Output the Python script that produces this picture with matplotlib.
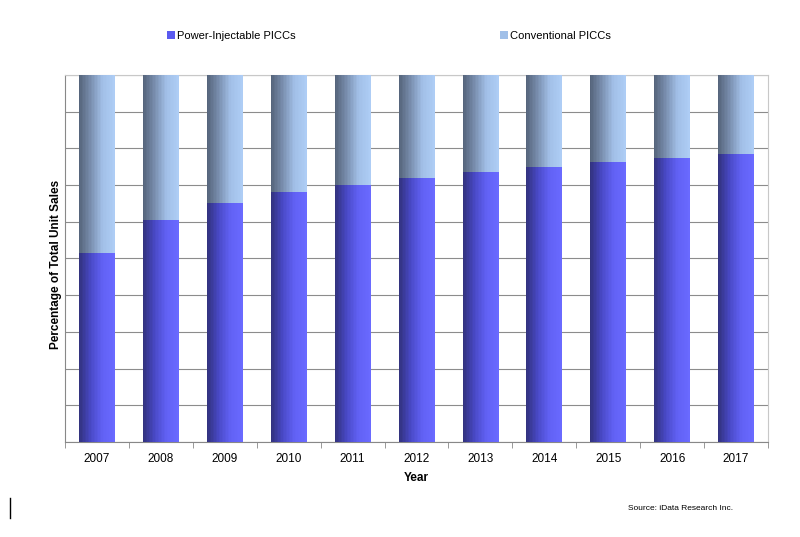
import matplotlib
matplotlib.use("Agg")
import matplotlib.pyplot as plt
import numpy as np
from matplotlib.colors import LinearSegmentedColormap

plt.rcParams['font.family'] = ['Liberation Sans', 'DejaVu Sans']

years = ["2007", "2008", "2009", "2010", "2011", "2012", "2013", "2014", "2015", "2016", "2017"]
power_injectable = [51.5, 60.5, 65.1, 68.1, 70.0, 71.9, 73.6, 74.9, 76.3, 77.4, 78.5]
conventional = [100 - v for v in power_injectable]

fig = plt.figure(figsize=(8, 5.37), dpi=100)
ax = fig.add_axes([0.08125, 0.177, 0.96 - 0.08125, 0.8603 - 0.177])

x = np.arange(len(years))
width = 0.56

cmap_blue = LinearSegmentedColormap.from_list("b", ["#33337f", "#4a4ac8", "#6262f5", "#6a6aff"])
cmap_light = LinearSegmentedColormap.from_list("l", ["#56657c", "#7b90b0", "#a2c0e8", "#aecdf5"])
grad = np.linspace(0, 1, 24).reshape(1, -1)

b1 = ax.bar(x, power_injectable, width, color="#5a5af0", label="Power-Injectable PICCs", zorder=3)
b2 = ax.bar(x, conventional, width, bottom=power_injectable, color="#a0bfe8",
            label="Conventional PICCs", zorder=3)

for bars, cm in ((b1, cmap_blue), (b2, cmap_light)):
    for r in bars:
        x0, y0 = r.get_x(), r.get_y()
        w, h = r.get_width(), r.get_height()
        im = ax.imshow(grad, cmap=cm, aspect='auto', extent=[x0, x0 + w, y0, y0 + h],
                       zorder=4, interpolation='nearest')
        im.set_clip_path(r)

ax.set_xlim(-0.5, len(years) - 0.5)
ax.set_ylim(0, 100)
ax.set_yticks(np.arange(0, 101, 10))
ax.set_yticklabels([])
ax.tick_params(axis='y', length=0)
ax.grid(axis='y', color="#8c8c8c", linewidth=0.8, zorder=0)
ax.set_xticks(x)
ax.set_xticklabels(years, fontsize=8.5)
ax.tick_params(axis='x', which='major', length=0, pad=8)
ax.set_xticks(np.arange(-0.5, len(years), 1), minor=True)
ax.tick_params(axis='x', which='minor', length=4, color="#888888")

for s in ('top', 'right'):
    ax.spines[s].set_color("#c8c8c8")
for s in ('left', 'bottom'):
    ax.spines[s].set_color("#888888")

ax.set_ylabel("Percentage of Total Unit Sales", fontsize=8.5, fontweight='bold')
ax.yaxis.set_label_coords(-0.004, 0.485)
ax.set_xlabel("Year", fontsize=8.5, fontweight='bold', labelpad=5)

leg = fig.legend(handles=[b1, b2], loc='center', bbox_to_anchor=(0.486, 0.933), ncol=2,
                 frameon=False, fontsize=8, columnspacing=18.4, handlelength=0.7,
                 handleheight=0.7, handletextpad=0.2)

fig.text(0.917, 0.054, "Source: iData Research Inc.", fontsize=6, ha='right', va='center')
fig.add_artist(plt.Line2D([0.0125, 0.0125], [0.035, 0.072], color="black", linewidth=1))

fig.savefig("out.png", dpi=100)
